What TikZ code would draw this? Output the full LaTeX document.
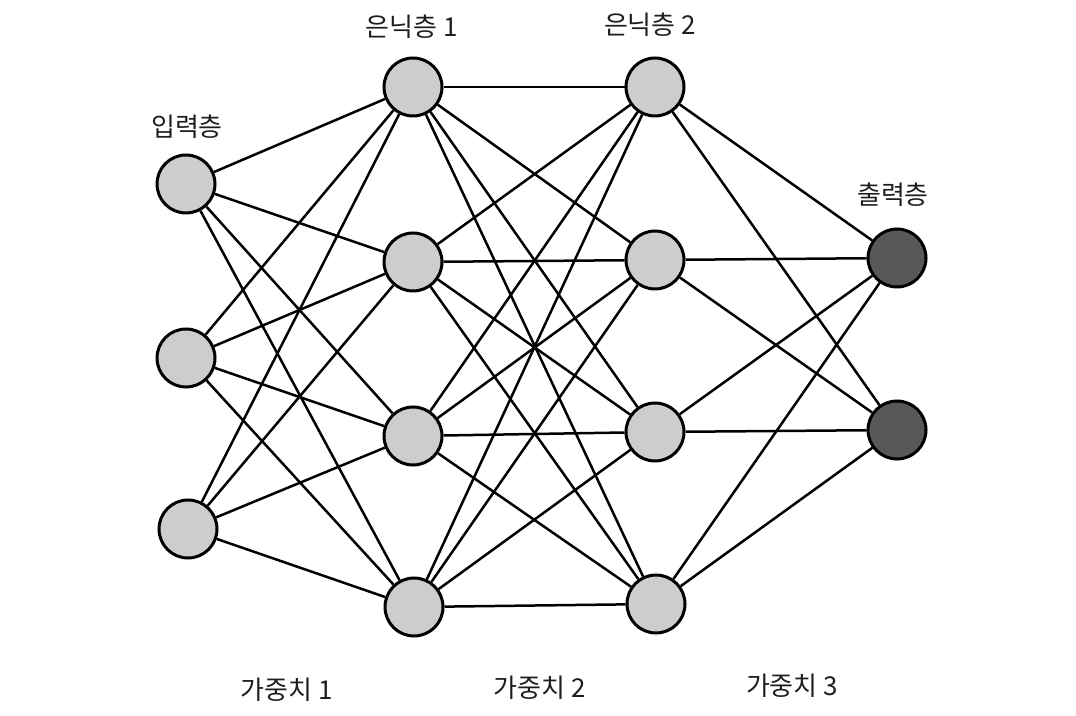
\documentclass[tikz,border=0pt]{standalone}
\usepackage{fontspec}
\setmainfont{Noto Sans CJK KR}
\definecolor{nodegray}{RGB}{205,205,205}
\definecolor{outgray}{RGB}{88,88,88}
\definecolor{labelgray}{RGB}{30,30,30}
\usepackage{tikz}
\usetikzlibrary{positioning}

\tikzset{
    neuron/.style={circle, draw=black, line width=1.5pt, fill=nodegray, minimum size=29pt, inner sep=0pt},
    outneuron/.style={neuron, fill=outgray},
    weight/.style={line width=1.25pt, black},
    layerlabel/.style={font=\fontsize{13}{15}\selectfont, text=labelgray, inner sep=0pt}
}

\begin{document}
\begin{tikzpicture}[x=0.5pt, y=-0.5pt]
            \useasboundingbox (0,0) rectangle (1076,716);
            % input layer
            \node[neuron] (in1) at (186,184) {};
            \node[neuron] (in2) at (186,358) {};
            \node[neuron] (in3) at (188,529) {};
            % hidden layer 1
            \node[neuron] (hA1) at (413,87) {};
            \node[neuron] (hA2) at (413,262) {};
            \node[neuron] (hA3) at (413,436) {};
            \node[neuron] (hA4) at (414,607) {};
            % hidden layer 2
            \node[neuron] (hB1) at (655,87) {};
            \node[neuron] (hB2) at (655,260) {};
            \node[neuron] (hB3) at (655,432) {};
            \node[neuron] (hB4) at (656,604) {};
            % output layer
            \node[outneuron] (out1) at (897,258) {};
            \node[outneuron] (out2) at (897,430) {};
            % weights
            \foreach \i in {1,2,3}
                \foreach \j in {1,...,4}
                    \draw[weight] (in\i) -- (hA\j);
            \foreach \i in {1,...,4}
                \foreach \j in {1,...,4}
                    \draw[weight] (hA\i) -- (hB\j);
            \foreach \i in {1,...,4}
                \foreach \j in {1,2}
                    \draw[weight] (hB\i) -- (out\j);
            % labels
            \node[layerlabel] (lin) at (187,127) {입력층};
            \node[layerlabel] (lhA) at (412,27) {은닉층 1};
            \node[layerlabel] (lhB) at (650,25) {은닉층 2};
            \node[layerlabel] (lout) at (893,195) {출력층};
            \node[layerlabel] (w1) at (287,690) {가중치 1};
            \node[layerlabel] (w2) at (540,688) {가중치 2};
            \node[layerlabel] (w3) at (792,686) {가중치 3};
        \end{tikzpicture}
\end{document}
